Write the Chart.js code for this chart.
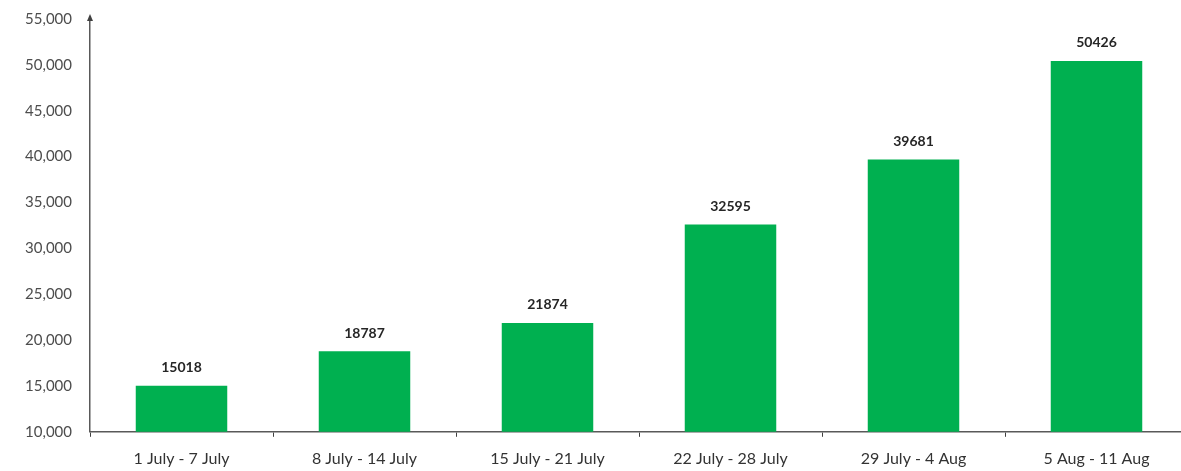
<!DOCTYPE html>
<html><head><meta charset="utf-8">
<script src="https://cdn.jsdelivr.net/npm/chart.js@4"></script>
<style>html,body{margin:0;padding:0;overflow:hidden;background:#fff}#wrap{width:1200px;height:488px;margin-top:-8px;position:relative}</style>
</head><body><div id="wrap"><canvas id="c"></canvas></div>
<script>
const categories = ["1 July - 7 July","8 July - 14 July","15 July - 21 July","22 July - 28 July","29 July - 4 Aug","5 Aug - 11 Aug"];
const values = [15018, 18787, 21874, 32595, 39681, 50426];
const yMin = 10000, yMax = 55000, yStep = 5000;

const labelPlugin = {
  id: 'barLabels',
  afterDatasetsDraw(chart) {
    const ctx = chart.ctx;
    const meta = chart.getDatasetMeta(0);
    ctx.save();
    ctx.font = 'bold 14px Lato, "Open Sans", sans-serif';
    ctx.fillStyle = '#262626';
    ctx.textAlign = 'center';
    ctx.textBaseline = 'middle';
    meta.data.forEach((bar, i) => {
      ctx.fillText(String(values[i]), bar.x, bar.y - 18);
    });
    ctx.restore();
  }
};
const arrowPlugin = {
  id: 'yArrow',
  afterDraw(chart) {
    const ctx = chart.ctx;
    const x = chart.scales.y.right;
    const top = chart.chartArea.top;
    ctx.save();
    ctx.fillStyle = '#404040';
    ctx.beginPath();
    ctx.moveTo(x, top - 5);
    ctx.lineTo(x - 3, top + 2);
    ctx.lineTo(x + 3, top + 2);
    ctx.closePath();
    ctx.fill();
    ctx.restore();
  }
};

new Chart(document.getElementById('c'), {
  type: 'bar',
  data: {
    labels: categories,
    datasets: [{
      data: values,
      backgroundColor: '#00B050',
      borderWidth: 0,
      categoryPercentage: 1.0,
      barPercentage: 0.5
    }]
  },
  options: {
    responsive: true,
    maintainAspectRatio: false,
    animation: false,
    layout: { padding: { top: 4, right: 12, left: 0, bottom: 0 } },
    plugins: { legend: { display: false }, tooltip: { enabled: false } },
    scales: {
      x: {
        grid: { display: true, offset: true, drawOnChartArea: false, drawTicks: true, tickLength: 5, color: '#404040', lineWidth: 1 },
        border: { display: true, color: '#595959', width: 1.5 },
        ticks: { color: '#333333', font: { size: 16, family: 'Lato, "Open Sans", sans-serif' }, padding: 12, maxRotation: 0, autoSkip: false }
      },
      y: {
        min: yMin, max: yMax,
        afterFit(scale) { scale.width = 90; },
        grid: { display: false, drawTicks: false },
        border: { display: true, color: '#595959', width: 1.5 },
        ticks: { stepSize: yStep, color: '#4d4d4d', padding: 18, font: { size: 15, family: 'Lato, "Open Sans", sans-serif' },
          callback: v => v.toLocaleString('en-US') }
      }
    }
  },
  plugins: [labelPlugin, arrowPlugin]
});
</script></body></html>
